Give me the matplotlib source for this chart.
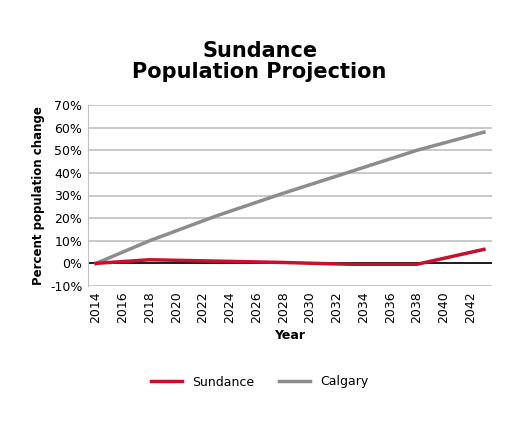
import matplotlib
matplotlib.use("Agg")
import matplotlib.pyplot as plt

years = [2014, 2018, 2023, 2028, 2033, 2038, 2043]
sundance = [0.0, 1.6, 1.0, 0.4, -0.4, -0.4, 6.2]
calgary = [0.0, 10.0, 21.0, 31.0, 40.5, 50.0, 58.0]
xticks = list(range(2014, 2043, 2))
yticks = list(range(-10, 71, 10))

fig = plt.figure(figsize=(5.09, 4.25), dpi=100)
ax = fig.add_axes([88/509, 1-286/425, (492-88)/509, (286-105)/425])
for y in yticks:
    ax.axhline(y, color="#c0c0c0", lw=1.2, zorder=0)
ax.axhline(0, color="black", lw=1.2, zorder=1)
ax.plot(years, sundance, color="#c8102e", lw=2.5, label="Sundance", zorder=3)
ax.plot(years, calgary, color="#8c8c8c", lw=2.5, label="Calgary", zorder=2)
ax.set_xlim(2013.4, 2043.6)
ax.set_ylim(-10, 70)
ax.set_yticks(yticks)
ax.set_yticklabels([f"{v}%" for v in yticks], fontsize=9)
ax.set_xticks(xticks)
ax.set_xticklabels([str(v) for v in xticks], rotation=90, fontsize=9)
for s in ["top", "right", "bottom"]:
    ax.spines[s].set_visible(False)
ax.spines["left"].set_color("#c0c0c0")
ax.tick_params(length=0, pad=4)
ax.set_xlabel("Year", fontsize=9, fontweight="bold")
ax.set_ylabel("Percent population change", fontsize=8.5, fontweight="bold")
fig.text(0.51, 0.855, "Sundance\nPopulation Projection", ha="center", va="center",
         fontsize=15, fontweight="bold", linespacing=1.1)
fig.legend(loc="center", bbox_to_anchor=(0.51, 1-382/425), ncol=2, frameon=False,
           fontsize=9, handlelength=2.5)
fig.savefig("out.png", dpi=100)
